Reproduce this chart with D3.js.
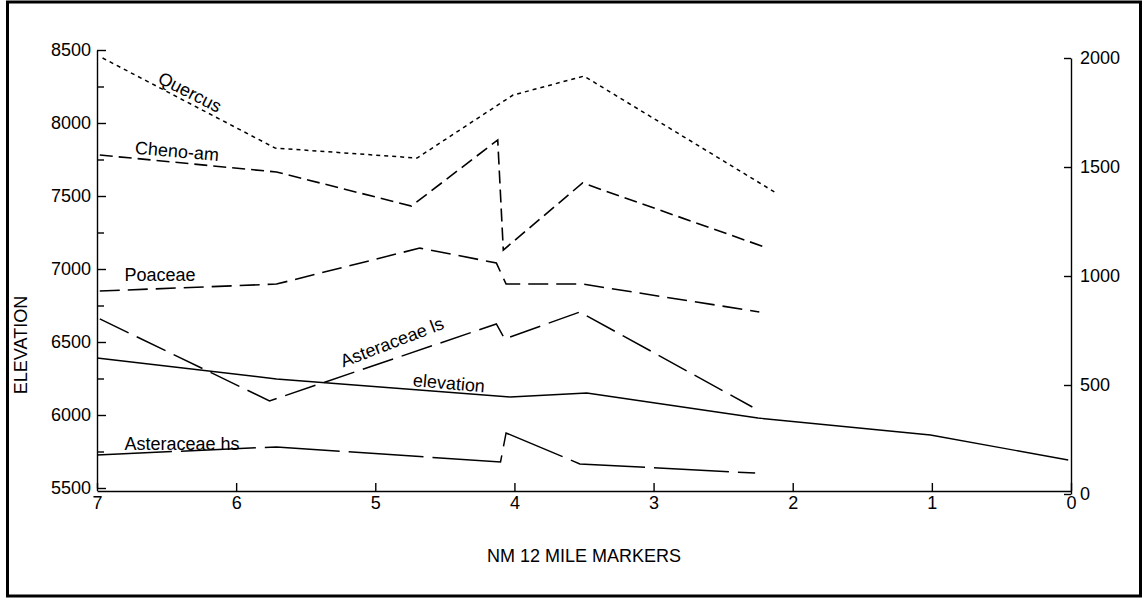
<!DOCTYPE html>
<html>
<head>
<meta charset="utf-8">
<script src="https://cdn.jsdelivr.net/npm/d3@7"></script>
<style>
  html, body { margin: 0; padding: 0; background: #fff; }
  svg { display: block; }
  text { font-family: "Liberation Sans", Arial, Helvetica, sans-serif; fill: #000; }
</style>
</head>
<body>
<svg id="chart" width="1143" height="599"></svg>
<script>
// Mile-marker ticks along NM 12
const mileTicks = [7, 6, 5, 4, 3, 2, 1, 0];
const elevationTicks = [5500, 6000, 6500, 7000, 7500, 8000, 8500];
const elevationMinorTicks = [5750, 6250, 6750, 7250, 7750, 8250];
const countTicks = [0, 500, 1000, 1500, 2000];

// Road elevation (left axis)
const elevationMiles = [7.0, 5.71, 4.03, 3.48, 2.25, 1.01, 0.02];
const elevationValues = [6390, 6247, 6123, 6151, 5979, 5863, 5692];

// Pollen counts (right axis)
const quercusMiles = [6.96, 5.72, 4.70, 4.01, 3.50, 2.13];
const quercusCounts = [2000, 1587, 1541, 1830, 1917, 1385];

const chenoamMiles = [6.98, 5.71, 4.74, 4.12, 4.08, 3.51, 2.18];
const chenoamCounts = [1555, 1477, 1321, 1624, 1119, 1427, 1128];

const poaceaeMiles = [6.98, 5.71, 4.68, 4.13, 4.06, 3.51, 2.24];
const poaceaeCounts = [931, 963, 1128, 1060, 963, 963, 835];

const asterLsMiles = [6.98, 5.76, 4.13, 4.07, 3.53, 2.29];
const asterLsCounts = [803, 427, 780, 711, 835, 399];

const asterHsMiles = [7.0, 5.71, 4.10, 4.06, 3.53, 2.27];
const asterHsCounts = [179, 216, 147, 280, 138, 96];

const svg = d3.select("#chart");

// outer frame
svg.append("rect")
  .attr("x", 7.5).attr("y", 2).attr("width", 1133).attr("height", 594)
  .attr("fill", "none").attr("stroke", "#000").attr("stroke-width", 3);

const x = d3.scaleLinear().domain([7, 0]).range([97, 1071]);
const yElev = d3.scaleLinear().domain([5500, 8500]).range([488, 50]);
const yCount = d3.scaleLinear().domain([0, 2000]).range([494, 58]);
const axisY = 491;

const axisStyle = g => {
  g.selectAll("path, line").attr("stroke", "#000").attr("stroke-width", 1.4);
  g.selectAll("text").style("font-size", "18px").attr("fill", "#000");
};

// left axis (elevation)
svg.append("g")
  .attr("transform", "translate(97,0)")
  .call(d3.axisLeft(yElev).tickValues(elevationTicks).tickFormat(d3.format("d"))
    .tickSizeInner(-9).tickSizeOuter(0).tickPadding(6))
  .call(axisStyle);
svg.append("g")
  .attr("transform", "translate(97,0)")
  .call(d3.axisLeft(yElev).tickValues(elevationMinorTicks).tickFormat("")
    .tickSizeInner(-7).tickSizeOuter(0))
  .call(g => g.select(".domain").remove())
  .call(axisStyle);

// right axis (pollen counts)
svg.append("g")
  .attr("transform", "translate(1071,0)")
  .call(d3.axisRight(yCount).tickValues(countTicks).tickFormat(d3.format("d"))
    .tickSizeInner(-7).tickSizeOuter(0).tickPadding(9))
  .call(axisStyle);

// bottom axis (mile markers)
svg.append("g")
  .attr("transform", `translate(0,${axisY})`)
  .call(d3.axisBottom(x).tickValues(mileTicks).tickFormat(d3.format("d"))
    .tickSizeInner(-8).tickSizeOuter(0).tickPadding(5))
  .call(axisStyle);

// series
const series = [
  { miles: quercusMiles, values: quercusCounts, y: yCount, dash: "4,4", w: 1.5 },
  { miles: chenoamMiles, values: chenoamCounts, y: yCount, dash: "13,6", w: 1.6 },
  { miles: poaceaeMiles, values: poaceaeCounts, y: yCount, dash: "20,8", w: 1.6 },
  { miles: asterLsMiles, values: asterLsCounts, y: yCount, dash: "32,9", w: 1.5 },
  { miles: asterHsMiles, values: asterHsCounts, y: yCount, dash: "75,9", w: 1.5 },
  { miles: elevationMiles, values: elevationValues, y: yElev, dash: null, w: 1.4 }
];

series.forEach(s => {
  const line = d3.line().x(d => x(d[0])).y(d => s.y(d[1]));
  svg.append("path")
    .datum(d3.zip(s.miles, s.values))
    .attr("d", line)
    .attr("fill", "none")
    .attr("stroke", "#000")
    .attr("stroke-width", s.w)
    .attr("stroke-dasharray", s.dash);
});

// series labels
const labels = [
  { text: "Quercus", x: 190, y: 92, r: 27 },
  { text: "Cheno-am", x: 177, y: 151, r: 5 },
  { text: "Poaceae", x: 160, y: 275, r: 0 },
  { text: "Asteraceae ls", x: 392, y: 342, r: -21 },
  { text: "elevation", x: 449, y: 383, r: 5 },
  { text: "Asteraceae hs", x: 182, y: 444, r: 0 }
];
svg.append("g").selectAll("text").data(labels).join("text")
  .attr("transform", d => `translate(${d.x},${d.y}) rotate(${d.r})`)
  .attr("text-anchor", "middle")
  .attr("dy", "0.35em")
  .style("font-size", "18px")
  .text(d => d.text);

// axis titles
svg.append("text")
  .attr("transform", "translate(21,345) rotate(-90)")
  .attr("text-anchor", "middle")
  .attr("dy", "0.35em")
  .style("font-size", "18px")
  .text("ELEVATION");

svg.append("text")
  .attr("x", 584).attr("y", 562)
  .attr("text-anchor", "middle")
  .style("font-size", "18px")
  .text("NM 12 MILE MARKERS");
</script>
</body>
</html>
